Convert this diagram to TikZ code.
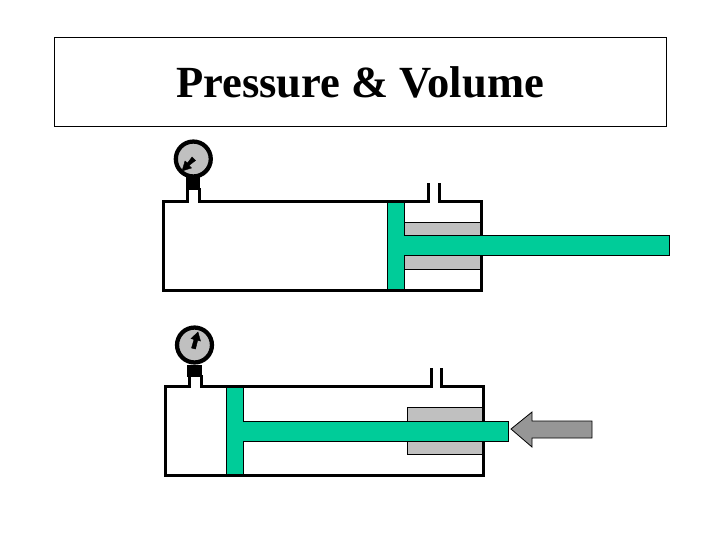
\documentclass[tikz,border=0pt]{standalone}
\usepackage{fontspec}
\setmainfont{Liberation Serif}
\definecolor{pistongreen}{HTML}{00CC99}
\definecolor{sealgrey}{HTML}{C0C0C0}
\definecolor{pushgrey}{HTML}{969696}
\tikzset{
  wall/.style={black,line width=2.4pt},
  piston/.style={draw=black,line width=0.5pt,fill=pistongreen},
  seal/.style={draw=black,line width=0.7pt,fill=sealgrey},
  gauge/.style={draw=black,line width=3.2pt,fill=sealgrey},
  needle/.style={fill=black,draw=black,line width=0.3pt}
}
\begin{document}
\begin{tikzpicture}[x=0.75pt,y=-0.75pt]
\useasboundingbox (0,0) rectangle (720,540);
\draw[black,line width=0.6pt] (54,37) rectangle (666,126);
\node (title) at (360,82.5) {\fontsize{33.4}{36}\selectfont\bfseries Pressure \& Volume};
% upper cylinder
\draw[seal] (404,222) rectangle (480,235);
\draw[seal] (404,255) rectangle (480,269);
\draw[wall] (428.5,183) -- (428.5,201.5) -- (199.5,201.5) -- (199.5,188);
\draw[wall] (187.5,188) -- (187.5,201.5) -- (163.5,201.5) -- (163.5,290.5) -- (481.5,290.5) -- (481.5,201.5) -- (439.5,201.5) -- (439.5,183);
\draw[piston] (387,202) -- (404,202) -- (404,235) -- (669,235) -- (669,255) -- (404,255) -- (404,289) -- (387,289) -- cycle;
% upper gauge
\fill[black] (186,177) rectangle (200,190);
\draw[gauge] (193.3,159) circle (13.1pt);
\draw[needle] (195.5,160.5) -- (192,157) -- (187.5,163) -- (185,161) -- (182,171) -- (191.5,168) -- (189,165.5) -- cycle;
% lower cylinder
\draw[seal] (407,407) rectangle (482,421);
\draw[seal] (407,441) rectangle (482,454);
\draw[wall] (431.5,368) -- (431.5,386.5) -- (201.5,386.5) -- (201.5,375);
\draw[wall] (189.5,375) -- (189.5,386.5) -- (165.5,386.5) -- (165.5,475.5) -- (483.5,475.5) -- (483.5,386.5) -- (441.5,386.5) -- (441.5,368);
\draw[piston] (226,387) -- (243,387) -- (243,421) -- (508,421) -- (508,441) -- (243,441) -- (243,474) -- (226,474) -- cycle;
% lower gauge
\fill[black] (187,365) rectangle (202,377);
\draw[gauge] (194.5,345) circle (13.1pt);
\draw[needle] (195.5,349) -- (191.5,348) -- (194,339.5) -- (191,338.5) -- (198,332) -- (200.5,341) -- (197.7,340.3) -- cycle;
% push arrow
\draw[fill=pushgrey,draw=black,line width=0.6pt] (511,429) -- (532,412) -- (532,421) -- (592,421) -- (592,438) -- (532,438) -- (532,447) -- cycle;
\end{tikzpicture}
\end{document}
